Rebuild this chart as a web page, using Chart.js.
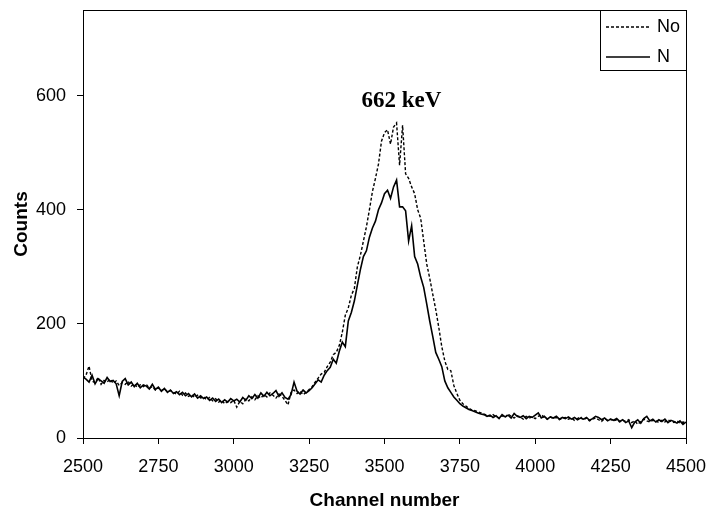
<!DOCTYPE html>
<html>
<head>
<meta charset="utf-8">
<title>662 keV spectrum</title>
<script src="https://cdn.jsdelivr.net/npm/chart.js"></script>
<style>
  body { margin: 0; background: #fff; }
  canvas { display: block; }
</style>
</head>
<body>
<canvas id="spectrumChart" width="706" height="509"></canvas>
<script>
// one reading every 10 channels, 2500 .. 4500
const firstChannel = 2500;
const channelStep = 10;

// counts (dashed curve)
const countsNo = [
  104, 110, 126, 100, 97, 106, 94, 101, 98, 103,
  96, 100, 92, 97, 94, 99, 91, 95, 89, 93,
  90, 94, 87, 90, 84, 88, 83, 86, 81, 83,
  80, 77, 82, 75, 79, 73, 76, 71, 75, 70,
  72, 67, 71, 65, 69, 63, 66, 60, 64, 62,
  66, 54, 64, 60, 68, 65, 72, 67, 74, 70,
  76, 72, 79, 75, 70, 77, 73, 66, 58, 80,
  84, 78, 82, 76, 80, 85, 90, 98, 105, 112,
  115, 125, 133, 146, 150, 162, 185, 215, 228, 250,
  262, 300, 320, 345, 370, 400, 432, 455, 480, 520,
  535, 540, 515, 545, 552, 478, 548, 463, 455, 440,
  428, 400, 385, 345, 305, 280, 252, 225, 194, 160,
  135, 120, 118, 92, 78, 66, 60, 56, 52, 49,
  48, 46, 44, 42, 40, 38, 41, 37, 35, 39,
  36, 42, 38, 35, 39, 37, 33, 38, 35, 37,
  34, 38, 41, 36, 33, 37, 34, 36, 32, 35,
  36, 33, 35, 31, 34, 37, 32, 35, 30, 33,
  35, 32, 29, 34, 31, 33, 30, 32, 28, 31,
  29, 32, 27, 30, 24, 29, 33, 30, 28, 31,
  30, 27, 31, 28, 32, 29, 27, 30, 26, 28,
  27
];

// counts (solid curve)
const countsN = [
  107, 103, 98, 110, 95, 104, 100, 96, 106, 99,
  101, 95, 74, 99, 104, 93, 98, 90, 96, 88,
  93, 91, 86, 94, 85, 89, 82, 87, 80, 84,
  78, 81, 76, 80, 74, 78, 72, 77, 70, 74,
  69, 72, 66, 70, 64, 68, 62, 67, 63, 69,
  65, 68, 63, 71, 66, 74, 69, 76, 70, 79,
  73, 80, 74, 78, 83, 73, 79, 71, 68, 76,
  98, 82, 77, 84, 79, 83, 88, 95, 102, 98,
  110, 118, 124, 138, 131, 152, 168, 160, 205, 220,
  240, 268, 295, 318, 328, 352, 368, 380, 400, 412,
  428, 434, 420, 440, 452, 405, 405, 398, 345, 372,
  318, 305, 282, 264, 235, 205, 178, 150, 138, 125,
  100, 88, 80, 72, 66, 60, 56, 53, 50, 48,
  46, 44, 42, 41, 38, 40, 36, 39, 34, 41,
  37, 40, 35, 43, 38, 36, 39, 34, 38, 36,
  40, 44, 35, 38, 33, 37, 35, 38, 33, 36,
  34, 37, 33, 36, 32, 35, 33, 36, 31, 34,
  38, 36, 32, 35, 30, 33, 31, 34, 29, 32,
  27, 30, 18, 28, 32, 26, 34, 38, 30, 33,
  28, 32, 29, 33, 27, 31, 29, 26, 30, 24,
  28
];

const xTicks = [2500, 2750, 3000, 3250, 3500, 3750, 4000, 4250, 4500];
const yTicks = [0, 200, 400, 600];
const seriesLabels = ['No', 'N'];
const peakLabel = '662 keV';
const peakAt = { x: 3556, y: 590 };

const tickFont = { family: "'Liberation Sans', Arial, sans-serif", size: 18, lineHeight: 1 };
const titleFont = { family: "'Liberation Sans', Arial, sans-serif", size: 19, weight: 'bold', lineHeight: 1 };

const channels = countsN.map((_, i) => firstChannel + i * channelStep);
const toPoints = arr => arr.map((v, i) => ({ x: channels[i], y: v }));

// box round the plot area
const frame = {
  id: 'frame',
  afterDatasetsDraw(chart) {
    const { ctx, chartArea: a } = chart;
    ctx.save();
    ctx.strokeStyle = '#000';
    ctx.lineWidth = 1;
    ctx.strokeRect(Math.round(a.left) + 0.5, Math.round(a.top) + 0.5,
      Math.round(a.right - a.left), Math.round(a.bottom - a.top));
    ctx.restore();
  }
};

// legend drawn inside the top right corner
const legendBox = {
  id: 'legendBox',
  afterDraw(chart) {
    const { ctx, chartArea: a } = chart;
    const w = 86, h = 60;
    const x0 = Math.round(a.right) - w, y0 = Math.round(a.top);
    ctx.save();
    ctx.fillStyle = '#fff';
    ctx.fillRect(x0, y0, w, h);
    ctx.strokeStyle = '#000';
    ctx.lineWidth = 1;
    ctx.strokeRect(x0 + 0.5, y0 + 0.5, w, h);
    chart.data.datasets.forEach((ds, i) => {
      const y = y0 + 17 + i * 30;
      ctx.setLineDash(ds.borderDash || []);
      ctx.lineWidth = ds.borderWidth;
      ctx.beginPath();
      ctx.moveTo(x0 + 6, y);
      ctx.lineTo(x0 + 50, y);
      ctx.stroke();
      ctx.setLineDash([]);
      ctx.fillStyle = '#000';
      ctx.font = `${tickFont.size}px ${tickFont.family}`;
      ctx.textBaseline = 'middle';
      ctx.textAlign = 'left';
      ctx.fillText(ds.label, x0 + 57, y);
    });
    ctx.restore();
  }
};

// peak annotation
const peakText = {
  id: 'peakText',
  afterDraw(chart) {
    const { ctx, scales } = chart;
    ctx.save();
    ctx.fillStyle = '#000';
    ctx.font = "bold 23px 'Liberation Serif', 'Times New Roman', serif";
    ctx.textAlign = 'center';
    ctx.textBaseline = 'middle';
    ctx.fillText(peakLabel, scales.x.getPixelForValue(peakAt.x), scales.y.getPixelForValue(peakAt.y));
    ctx.restore();
  }
};

const axisGrid = { display: true, drawOnChartArea: false, drawTicks: true, tickLength: 6, color: '#000' };

new Chart(document.getElementById('spectrumChart').getContext('2d'), {
  type: 'line',
  data: {
    datasets: [{
      label: seriesLabels[0],
      data: toPoints(countsNo),
      borderColor: '#000',
      borderWidth: 1.4,
      borderDash: [3, 2],
      pointRadius: 0,
      tension: 0
    }, {
      label: seriesLabels[1],
      data: toPoints(countsN),
      borderColor: '#000',
      borderWidth: 1.6,
      pointRadius: 0,
      tension: 0
    }]
  },
  options: {
    responsive: false,
    animation: false,
    devicePixelRatio: 1,
    layout: { padding: { left: 0, right: 20, top: 10, bottom: 0 } },
    plugins: {
      legend: { display: false },
      tooltip: { enabled: false }
    },
    scales: {
      x: {
        type: 'linear',
        min: 2500,
        max: 4500,
        afterBuildTicks: s => { s.ticks = xTicks.map(v => ({ value: v })); },
        afterFit: s => { s.height = 71; s.paddingLeft = 0; s.paddingRight = 0; },
        grid: axisGrid,
        border: { display: true, color: '#000', width: 1 },
        ticks: { color: '#000', font: tickFont, padding: 14, maxRotation: 0, autoSkip: false, callback: v => String(v) },
        title: { display: true, text: 'Channel number', color: '#000', font: titleFont, padding: { top: 0, bottom: -1 } }
      },
      y: {
        type: 'linear',
        min: 0,
        max: 750,
        afterBuildTicks: s => { s.ticks = yTicks.map(v => ({ value: v })); },
        afterFit: s => { s.width = 83; s.paddingTop = 0; s.paddingBottom = 0; },
        grid: axisGrid,
        border: { display: true, color: '#000', width: 1 },
        ticks: { color: '#000', font: tickFont, padding: 11, callback: v => String(v) },
        title: { display: true, text: 'Counts', color: '#000', font: titleFont, padding: { top: 12, bottom: 0 } }
      }
    }
  },
  plugins: [frame, legendBox, peakText]
});
</script>
</body>
</html>
